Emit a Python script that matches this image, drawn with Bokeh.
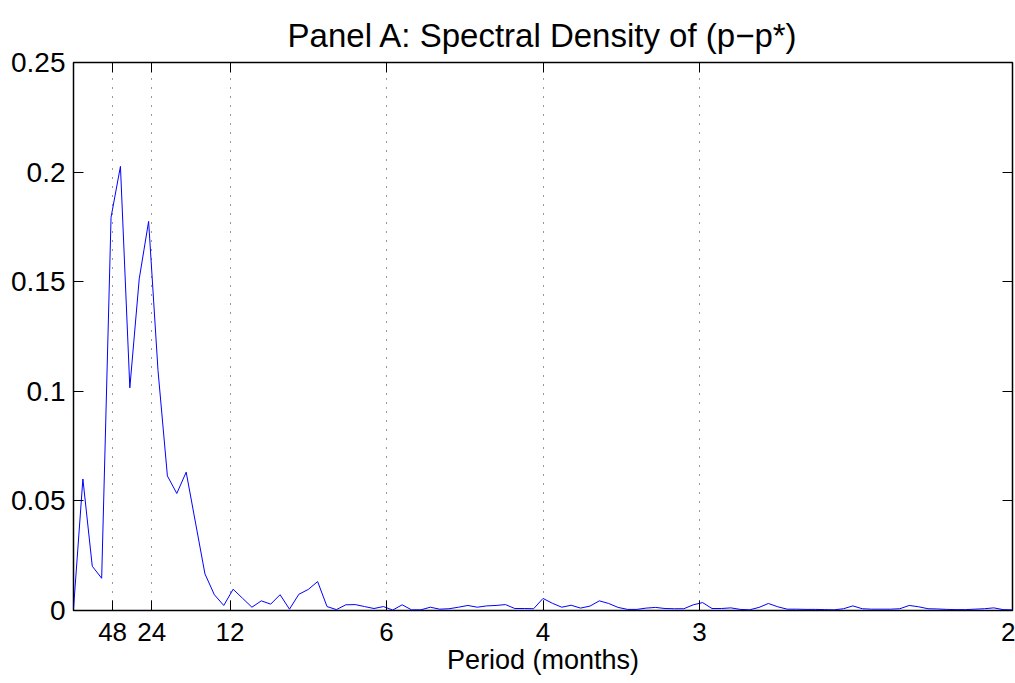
from bokeh.plotting import figure
from bokeh.models import (FixedTicker, CustomJSTickFormatter, LinearAxis,
                          Range1d, ColumnDataSource)
from bokeh.embed import file_html
from bokeh.resources import INLINE

# ---- data -------------------------------------------------------------
period_ticks = [48, 24, 12, 6, 4, 3, 2]          # months
y_ticks = [0, 0.05, 0.1, 0.15, 0.2, 0.25]
n_months = 200                                    # Fourier grid: k / N
spectral_density = [
    0.0008, 0.0600, 0.0202, 0.0147, 0.1794, 0.2026, 0.1016, 0.1513, 0.1775, 0.1095,
    0.0614, 0.0534, 0.0631, 0.0399, 0.0167, 0.0072, 0.0023, 0.0097, 0.0056, 0.0015,
    0.0044, 0.0029, 0.0072, 0.0006, 0.0074, 0.0096, 0.0132, 0.0018, 0.0004, 0.0026,
    0.0027, 0.0018, 0.0009, 0.0018, 0.0002, 0.0026, 0.0003, 0.0003, 0.0015, 0.0006,
    0.0008, 0.0015, 0.0023, 0.0015, 0.0021, 0.0023, 0.0027, 0.0009, 0.0009, 0.0008,
    0.0055, 0.0033, 0.0015, 0.0024, 0.0011, 0.0020, 0.0044, 0.0032, 0.0014, 0.0005,
    0.0005, 0.0011, 0.0014, 0.0009, 0.0008, 0.0008, 0.0026, 0.0036, 0.0009, 0.0009,
    0.0012, 0.0005, 0.0003, 0.0014, 0.0032, 0.0017, 0.0006, 0.0006, 0.0005, 0.0005,
    0.0004, 0.0003, 0.0008, 0.0021, 0.0008, 0.0006, 0.0006, 0.0006, 0.0008, 0.0023,
    0.0017, 0.0008, 0.0007, 0.0005, 0.0004, 0.0004, 0.0006, 0.0008, 0.0012, 0.0004,
    0.0003,
]
frequency = [k / n_months for k in range(len(spectral_density))]

source = ColumnDataSource(data=dict(freq=frequency, dens=spectral_density))

FONT = "Liberation Sans"

p = figure(width=1015, height=683,
           x_range=Range1d(0, 0.5), y_range=Range1d(0, 0.25),
           output_backend="svg", toolbar_location=None,
           title="Panel A: Spectral Density of (p\u2212p*)",
           x_axis_label="Period (months)",
           min_border_left=73, min_border_right=3,
           min_border_top=62, min_border_bottom=73)

bottom_axis = p.below[0]
left_axis = p.left[0]

p.background_fill_color = "white"
p.border_fill_color = "white"
p.outline_line_color = "black"
p.outline_line_width = 1.5

p.title.align = "center"
p.title.text_font = FONT
p.title.text_font_size = "33px"
p.title.text_font_style = "normal"
p.title.text_color = "black"
p.title.standoff = 18

x_ticker = FixedTicker(ticks=[1.0 / t for t in period_ticks])
y_ticker = FixedTicker(ticks=y_ticks)
x_fmt = CustomJSTickFormatter(code="return String(Math.round(1/tick));")
y_fmt = CustomJSTickFormatter(code="return String(Math.round(tick*100)/100);")
blank_fmt = CustomJSTickFormatter(code="return '';")

bottom_axis.ticker = x_ticker
bottom_axis.formatter = x_fmt
left_axis.ticker = y_ticker
left_axis.formatter = y_fmt

top_axis = LinearAxis(ticker=x_ticker, formatter=blank_fmt)
right_axis = LinearAxis(ticker=y_ticker, formatter=blank_fmt)
p.add_layout(top_axis, "above")
p.add_layout(right_axis, "right")

for ax in [bottom_axis, left_axis, top_axis, right_axis]:
    ax.axis_line_color = None
    ax.major_tick_in = 10
    ax.major_tick_out = 0
    ax.major_tick_line_color = "black"
    ax.major_tick_line_width = 1
    ax.minor_tick_line_color = None
    ax.major_label_text_font = FONT
    ax.major_label_text_color = "black"

for ax in [top_axis, right_axis]:
    ax.major_label_standoff = 0
    ax.major_label_text_font_size = "1px"

bottom_axis.major_label_text_font_size = "26px"
left_axis.major_label_text_font_size = "28px"
bottom_axis.major_label_standoff = 12
left_axis.major_label_standoff = 8
bottom_axis.axis_label_text_font = FONT
bottom_axis.axis_label_text_font_size = "27px"
bottom_axis.axis_label_text_font_style = "normal"
bottom_axis.axis_label_text_color = "black"
bottom_axis.axis_label_standoff = 1

p.xgrid.ticker = x_ticker
p.xgrid.grid_line_color = "black"
p.xgrid.grid_line_alpha = 0.8
p.xgrid.grid_line_dash = "1 8"
p.xgrid.grid_line_width = 1
p.ygrid.visible = False

p.line("freq", "dens", source=source, line_color="#0000ff", line_width=1)

open("out.html", "w").write(file_html(p, INLINE))
